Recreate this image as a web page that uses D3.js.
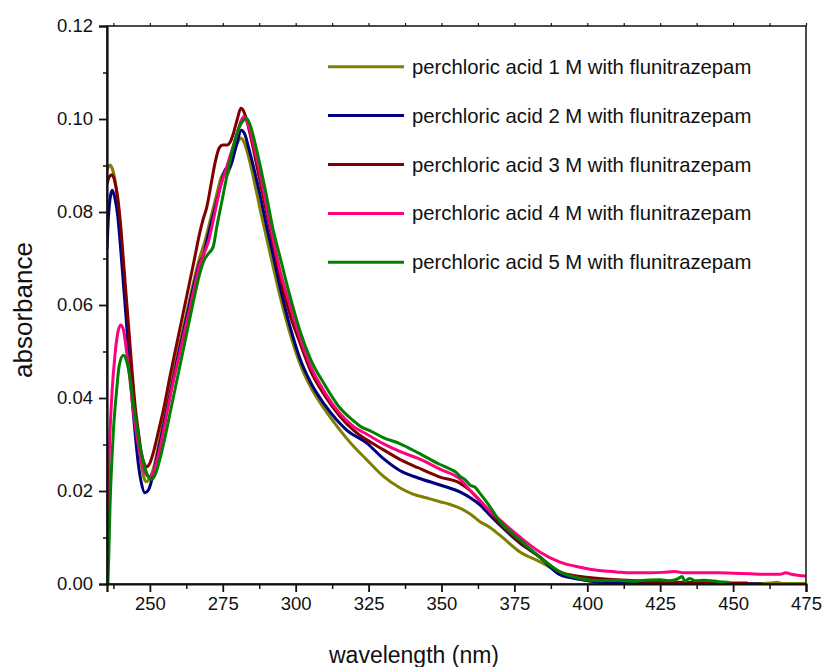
<!DOCTYPE html>
<html><head><meta charset="utf-8">
<script src="https://cdn.jsdelivr.net/npm/d3@7"></script>
<style>body{margin:0;background:#fff}svg{display:block}text{font-family:"Liberation Sans",Arial,sans-serif;fill:#111}</style>
</head><body>
<script>
const seriesNames = ["perchloric acid 1 M with flunitrazepam","perchloric acid 2 M with flunitrazepam","perchloric acid 3 M with flunitrazepam","perchloric acid 4 M with flunitrazepam","perchloric acid 5 M with flunitrazepam"];
const seriesColors = ["#808000","#000080","#800000","#ff0080","#008000"];
const xTicks = [250,275,300,325,350,375,400,425,450,475];
const yTicks = [0,0.02,0.04,0.06,0.08,0.10,0.12];

const s1M = [[235.3,0.089],[236.3,0.0901],[237,0.0895],[238,0.087],[239,0.082],[240,0.075],[241,0.067],[242,0.059],[243,0.051],[244,0.043],[245,0.036],[246,0.031],[247,0.026],[248,0.0228],[248.8,0.022],[250,0.0228],[251.5,0.0255],[253,0.030],[255,0.036],[257.5,0.044],[260,0.051],[262.5,0.058],[265,0.065],[267,0.070],[269,0.074],[271,0.079],[273,0.084],[274.5,0.0875],[275.5,0.0885],[276.5,0.088],[277.5,0.0895],[279,0.093],[280.3,0.0952],[281.2,0.0959],[282.3,0.095],[284,0.0915],[286,0.086],[288,0.080],[290,0.0745],[292,0.069],[294.6,0.062],[298,0.054],[301.4,0.0475],[305,0.0425],[310,0.0375],[315.2,0.0331],[320,0.0295],[324.4,0.0267],[330,0.0232],[335.7,0.0207],[340,0.0194],[345,0.0185],[349.5,0.0177],[353,0.0171],[356.3,0.0163],[360,0.015],[363.2,0.0134],[366,0.0124],[370,0.0105],[376.9,0.0069],[383.7,0.0048],[390.6,0.0024],[397.5,0.001],[404,0.0005],[410,0.0003],[420,0.0002],[430,0.0002],[440,0.0001],[450,0.0001],[460,0.0001],[463,0.0002],[465,0.0004],[467,0.0001],[475,0.0001]];
const s2M = [[235.3,0.072],[235.8,0.079],[236.5,0.0835],[237.1,0.0847],[238,0.083],[239,0.079],[240,0.072],[241,0.064],[242,0.056],[243,0.047],[244,0.039],[245,0.032],[246,0.026],[247,0.022],[248.3,0.0196],[249.5,0.0202],[250.5,0.022],[252,0.026],[254,0.032],[256,0.038],[258,0.044],[260,0.050],[262.5,0.057],[265,0.064],[267,0.069],[268.5,0.071],[270,0.075],[272,0.080],[274,0.085],[275,0.0875],[276,0.0893],[277,0.0893],[278,0.0905],[279.5,0.094],[281.4,0.0976],[282.5,0.0968],[284,0.0935],[286,0.0885],[288,0.083],[290,0.077],[292,0.0715],[294.6,0.064],[298,0.0555],[301.4,0.0486],[305,0.0435],[310,0.0385],[317.5,0.0331],[324.4,0.0303],[330,0.027],[335.7,0.0244],[342,0.0228],[349.5,0.0213],[356.3,0.0198],[360,0.0185],[363.2,0.017],[366,0.0152],[370,0.0127],[376.9,0.0088],[383.7,0.0058],[390.6,0.002],[397.5,0.001],[404,0.0004],[410,0.0002],[420,0.0001],[440,0.0001],[460,0.0]];
const s3M = [[235.3,0.086],[236,0.0875],[237,0.088],[238,0.0865],[239,0.083],[240,0.077],[241,0.069],[242,0.061],[243,0.053],[244,0.045],[245,0.038],[246,0.033],[247,0.0285],[248,0.026],[248.9,0.0252],[250,0.026],[251.5,0.029],[253,0.033],[255,0.0385],[257,0.045],[259,0.051],[261,0.057],[263,0.063],[265,0.069],[267.1,0.0755],[268.3,0.0785],[269.5,0.081],[271,0.086],[272.5,0.091],[273.8,0.0938],[275,0.0944],[276.5,0.0944],[277.5,0.095],[278.7,0.097],[280,0.100],[281.2,0.1023],[282.3,0.1015],[283.5,0.099],[285,0.095],[287,0.089],[289,0.083],[291,0.077],[293,0.071],[295,0.065],[298,0.058],[301.4,0.052],[305,0.046],[310,0.0405],[315,0.0362],[320,0.033],[324.4,0.031],[330,0.0289],[335.7,0.0268],[342,0.025],[349.5,0.023],[356.3,0.0217],[360,0.020],[363.2,0.0178],[366,0.016],[370,0.013],[376.9,0.009],[383.7,0.0058],[390.6,0.0026],[397.5,0.0016],[404,0.0012],[410,0.0009],[420,0.0006],[430,0.0004],[440,0.0003],[455,0.0002]];
const s4M = [[235.3,0.0],[235.5,0.010],[235.8,0.022],[236.3,0.032],[237,0.041],[238,0.049],[239,0.054],[240,0.0557],[241,0.0545],[242,0.050],[243,0.045],[244,0.039],[245,0.034],[246,0.030],[247,0.0267],[248.5,0.0238],[250,0.0231],[251.5,0.0245],[253,0.028],[255,0.034],[257.5,0.042],[260,0.049],[262.5,0.056],[265,0.063],[267,0.0685],[268.5,0.071],[270,0.0735],[272,0.079],[274,0.085],[276,0.089],[278,0.093],[280,0.097],[281.2,0.0995],[282.2,0.1005],[283.3,0.0995],[285,0.096],[287,0.0905],[289,0.0845],[291,0.078],[293,0.072],[294.6,0.0675],[298,0.060],[301.4,0.0531],[305,0.047],[310,0.0412],[315,0.0368],[320,0.0338],[324.4,0.0322],[330,0.0302],[335.7,0.0285],[342,0.027],[349.5,0.0247],[356.3,0.0226],[360,0.020],[363.2,0.018],[366,0.016],[370,0.0138],[376.9,0.0101],[383.7,0.0069],[390.6,0.0047],[397.5,0.0036],[404,0.0029],[410,0.0026],[415,0.0024],[421.5,0.0024],[426,0.0025],[430,0.0027],[433,0.0024],[438.6,0.0024],[445,0.0024],[450,0.0023],[455.8,0.0022],[460,0.0021],[466,0.0021],[468,0.0024],[470,0.0021],[475,0.0017]];
const s5M = [[235.6,0.0],[236,0.008],[236.3,0.016],[237,0.027],[237.5,0.033],[238.5,0.041],[239.5,0.047],[240.9,0.0492],[242,0.048],[243,0.045],[244.3,0.039],[245.5,0.034],[246.5,0.030],[248,0.0257],[249.5,0.023],[250.6,0.0225],[252,0.0238],[253.5,0.027],[255,0.031],[257,0.037],[259,0.043],[261,0.049],[263,0.055],[265,0.061],[267,0.0665],[268.5,0.0695],[270,0.071],[271.7,0.0725],[273,0.077],[274.6,0.082],[276,0.0865],[277.5,0.091],[279,0.095],[280.5,0.098],[282,0.0997],[283.2,0.1001],[284.5,0.0985],[286,0.095],[288,0.0895],[290,0.0835],[292,0.077],[294.6,0.0704],[298,0.062],[301.4,0.0546],[305,0.0485],[310,0.0428],[315,0.038],[320,0.035],[322,0.034],[326,0.0328],[330,0.0315],[335.7,0.0302],[342,0.0282],[349.5,0.0257],[353,0.0247],[355,0.024],[356.3,0.0232],[358,0.0225],[360,0.0212],[361.5,0.0208],[363.2,0.0195],[366,0.0172],[370,0.0135],[376.9,0.0095],[383.7,0.0058],[390.6,0.0026],[397.5,0.0012],[404,0.0007],[410,0.0008],[415,0.0006],[420,0.0008],[425,0.0009],[428,0.0007],[431,0.0011],[432.5,0.0016],[433.5,0.0006],[435,0.0012],[437,0.0007],[440,0.0008],[445,0.0005],[449,0.0003]];
const allSeries = [s1M,s2M,s3M,s4M,s5M];

const W = 822, H = 667;
const L = 107, R = 806, T = 26, B = 584;
const svg = d3.select("body").append("svg").attr("width",W).attr("height",H);
const x = d3.scaleLinear().domain([235.3,475]).range([L,R]);
const y = d3.scaleLinear().domain([0,0.12]).range([B,T]);

svg.append("clipPath").attr("id","clip").append("rect").attr("x",L).attr("y",T).attr("width",R-L).attr("height",B-T);

const line = d3.line().x(d=>x(d[0])).y(d=>y(d[1])).curve(d3.curveMonotoneX);
const g = svg.append("g").attr("clip-path","url(#clip)");
allSeries.forEach((s,i)=>{
  g.append("path").datum(s).attr("d",line).attr("fill","none")
   .attr("stroke",seriesColors[i]).attr("stroke-width",3).attr("stroke-linejoin","round");
});

const xMinor = d3.range(237.5,476,12.5).filter(v=>!xTicks.includes(v));
const yMinor = d3.range(0.01,0.12,0.02);

svg.append("rect").attr("x",L).attr("y",T).attr("width",R-L).attr("height",B-T)
  .attr("fill","none").attr("stroke","#111").attr("stroke-width",1.5);

const xAxis = d3.axisBottom(x).tickValues(xTicks).tickSize(8).tickPadding(5).tickFormat(d3.format("d"));
const gx = svg.append("g").attr("transform",`translate(0,${B})`).call(xAxis);
gx.select(".domain").attr("stroke","#111").attr("stroke-width",2.2);
gx.selectAll(".tick line").attr("stroke","#111").attr("stroke-width",1.8);
gx.selectAll(".tick text").style("font-size","18.5px").style("font-family","'Liberation Sans',Arial,sans-serif").attr("fill","#111");
svg.append("g").attr("transform",`translate(0,${B})`).call(d3.axisBottom(x).tickValues(xMinor).tickSize(5).tickFormat(""))
  .call(a=>{a.select(".domain").remove();a.selectAll("line").attr("stroke","#111").attr("stroke-width",1.5);});

svg.append("g").attr("transform",`translate(0,${T})`).call(d3.axisTop(x).tickValues(xTicks.concat(xMinor)).tickSize(3).tickFormat(""))
  .call(a=>{a.select(".domain").remove();a.selectAll("line").attr("stroke","#111").attr("stroke-width",1.2);});

const yAxis = d3.axisLeft(y).tickValues(yTicks).tickSize(8).tickPadding(6).tickFormat(d3.format(".2f"));
const gy = svg.append("g").attr("transform",`translate(${L},0)`).call(yAxis);
gy.select(".domain").attr("stroke","#111").attr("stroke-width",2.2);
gy.selectAll(".tick line").attr("stroke","#111").attr("stroke-width",1.8);
gy.selectAll(".tick text").style("font-size","18.5px").style("font-family","'Liberation Sans',Arial,sans-serif").attr("fill","#111");
svg.append("g").attr("transform",`translate(${L},0)`).call(d3.axisLeft(y).tickValues(yMinor).tickSize(4).tickFormat(""))
  .call(a=>{a.select(".domain").remove();a.selectAll("line").attr("stroke","#111").attr("stroke-width",1.5);});

svg.append("text").attr("x",414).attr("y",663).attr("text-anchor","middle")
  .style("font-size","23px").text("wavelength (nm)");
svg.append("text").attr("transform",`translate(32,310) rotate(-90)`).attr("text-anchor","middle")
  .style("font-size","26px").text("absorbance");

const lg = svg.append("g");
seriesNames.forEach((n,i)=>{
  const yy = 66.7 + i*48.9;
  lg.append("line").attr("x1",328).attr("x2",404).attr("y1",yy).attr("y2",yy)
    .attr("stroke",seriesColors[i]).attr("stroke-width",3);
  lg.append("text").attr("x",412).attr("y",yy+7).style("font-size","20.3px").text(n);
});
</script>
</body></html>
